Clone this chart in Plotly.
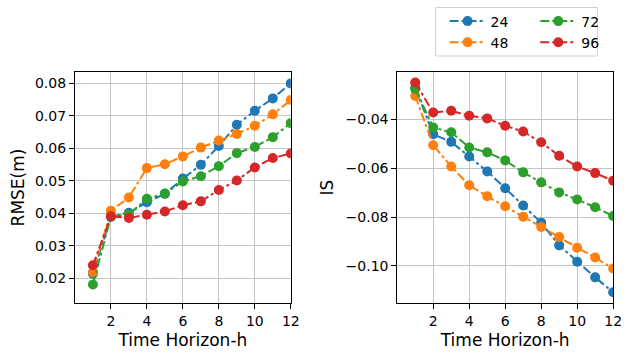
import plotly.graph_objects as go

# ---- data ----
horizon = [1, 2, 3, 4, 5, 6, 7, 8, 9, 10, 11, 12]
series_names = ["24", "48", "72", "96"]
colors = ["#1f77b4", "#ff7f0e", "#2ca02c", "#d62728"]

rmse_24 = [0.0215, 0.0390, 0.0402, 0.0434, 0.0460, 0.0507, 0.0549, 0.0607, 0.0672, 0.0715, 0.0753, 0.0799]
rmse_48 = [0.0219, 0.0408, 0.0449, 0.0539, 0.0551, 0.0575, 0.0602, 0.0624, 0.0644, 0.0669, 0.0704, 0.0748]
rmse_72 = [0.0182, 0.0390, 0.0397, 0.0445, 0.0461, 0.0498, 0.0514, 0.0545, 0.0585, 0.0604, 0.0634, 0.0677]
rmse_96 = [0.0241, 0.0391, 0.0386, 0.0396, 0.0406, 0.0425, 0.0437, 0.0472, 0.0501, 0.0541, 0.0570, 0.0584]

is_24 = [-0.0270, -0.0461, -0.0492, -0.0552, -0.0613, -0.0682, -0.0753, -0.0823, -0.0916, -0.0983, -0.1047, -0.1108]
is_48 = [-0.0304, -0.0506, -0.0593, -0.0670, -0.0715, -0.0756, -0.0799, -0.0841, -0.0882, -0.0926, -0.0966, -0.1011]
is_72 = [-0.0275, -0.0433, -0.0453, -0.0515, -0.0535, -0.0568, -0.0617, -0.0658, -0.0699, -0.0728, -0.0760, -0.0796]
is_96 = [-0.0249, -0.0372, -0.0365, -0.0385, -0.0396, -0.0426, -0.0450, -0.0494, -0.0549, -0.0593, -0.0620, -0.0651]

x_ticks = [2, 4, 6, 8, 10, 12]
rmse_ticks = [0.02, 0.03, 0.04, 0.05, 0.06, 0.07, 0.08]
is_ticks = [-0.10, -0.08, -0.06, -0.04]

rmse_series = [rmse_24, rmse_48, rmse_72, rmse_96]
is_series = [is_24, is_48, is_72, is_96]
legend_ids = ["legend", "legend", "legend2", "legend2"]

FONT = "DejaVu Sans"
fig = go.Figure()

for name, c, ys, lg in zip(series_names, colors, rmse_series, legend_ids):
    fig.add_trace(go.Scatter(
        x=horizon, y=ys, name=name, mode="lines+markers",
        line=dict(color=c, width=2, dash="dashdot"),
        marker=dict(color=c, size=10),
        xaxis="x", yaxis="y", legend=lg, showlegend=True,
    ))
for name, c, ys in zip(series_names, colors, is_series):
    fig.add_trace(go.Scatter(
        x=horizon, y=ys, name=name, mode="lines+markers",
        line=dict(color=c, width=2, dash="dashdot"),
        marker=dict(color=c, size=10),
        xaxis="x2", yaxis="y2", showlegend=False,
    ))

W, H = 632, 356
ax_common = dict(
    showline=True, linecolor="black", linewidth=1, mirror=True,
    ticks="outside", ticklen=5, tickcolor="black", tickwidth=1,
    showgrid=True, gridcolor="#c4c4c4", gridwidth=1, zeroline=False,
    tickfont=dict(family=FONT, size=14, color="black"),
)

y0, y1 = 1 - 303 / H, 1 - 72 / H

fig.update_layout(
    width=W, height=H,
    margin=dict(l=0, r=0, t=0, b=0),
    paper_bgcolor="white", plot_bgcolor="white",
    font=dict(family=FONT, size=14, color="black"),
    xaxis=dict(domain=[76 / W, 295 / W], range=[0, 12], tickvals=x_ticks,
               title=dict(text="Time Horizon-h", font=dict(size=17), standoff=6),
               anchor="y", **ax_common),
    yaxis=dict(domain=[y0, y1], range=[0.0125, 0.0834], tickvals=rmse_ticks,
               tickformat=".2f",
               title=dict(text="RMSE(m)", font=dict(size=17), standoff=5),
               anchor="x", **ax_common),
    xaxis2=dict(domain=[403 / W, 622 / W], range=[0, 12], tickvals=x_ticks,
                title=dict(text="Time Horizon-h", font=dict(size=17), standoff=6),
                anchor="y2", **ax_common),
    yaxis2=dict(domain=[y0, y1], range=[-0.1152, -0.0206], tickvals=is_ticks,
                tickformat=".2f",
                title=dict(text="IS", font=dict(size=17), standoff=7),
                anchor="x2", **ax_common),
    legend=dict(x=451 / W, y=1 - 5.5 / H, xanchor="left", yanchor="top",
                bgcolor="rgba(0,0,0,0)", borderwidth=0, itemwidth=36,
                font=dict(family=FONT, size=14, color="black")),
    legend2=dict(x=543 / W, y=1 - 5.5 / H, xanchor="left", yanchor="top",
                 bgcolor="rgba(0,0,0,0)", borderwidth=0, itemwidth=36,
                 font=dict(family=FONT, size=14, color="black")),
    shapes=[dict(type="rect", xref="paper", yref="paper",
                 x0=442 / W, x1=606 / W, y0=1 - 56 / H, y1=1 - 7.5 / H,
                 line=dict(color="#d0d0d0", width=1), fillcolor="rgba(0,0,0,0)")],
)

fig.write_html("out.html", config={"displayModeBar": False},
               post_script="document.body.style.margin='0';")
